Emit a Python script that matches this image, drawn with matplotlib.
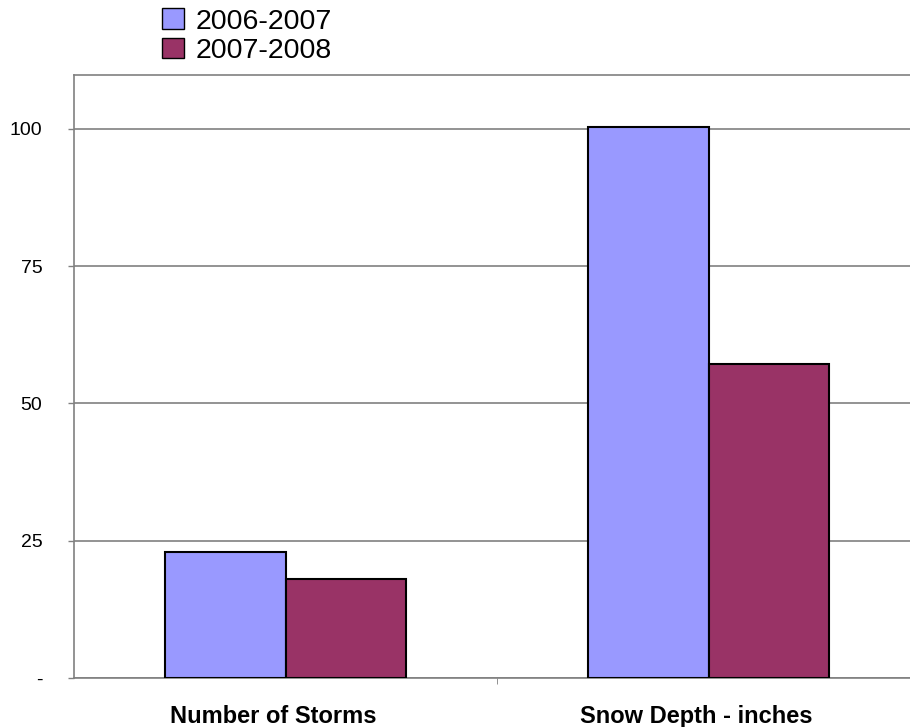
import numpy as np
from matplotlib import pyplot as plt
from matplotlib.patches import Patch
from matplotlib.transforms import ScaledTranslation

plt.rcParams['font.family'] = ['Liberation Sans', 'DejaVu Sans']

categories = ['Number of Storms', 'Snow Depth - inches']
series = ['2006-2007', '2007-2008']
values_0607 = [23, 100.3]
values_0708 = [18, 57.1]
colors = ['#9999FF', '#993366']

fig = plt.figure(figsize=(9.1, 7.27), dpi=100)
ax = fig.add_axes([74/910, 1 - 678/727, (910-74)/910, (678-75)/727])

x = np.arange(len(categories))
w = 0.286
ax.bar(x - w/2, values_0607, w, color=colors[0], edgecolor='black', linewidth=1.5, zorder=3)
ax.bar(x + w/2, values_0708, w, color=colors[1], edgecolor='black', linewidth=1.5, zorder=3)

ax.set_ylim(0, 109.8)
ax.set_xlim(-0.5, -0.5 + (910-74)/423)
ax.set_yticks([0, 25, 50, 75, 100])
ax.set_yticklabels(['-', '25', '50', '75', '100'], fontsize=14)
ax.yaxis.grid(True, color='#808080', linewidth=1.2, zorder=0)
ax.tick_params(axis='y', length=4.3, width=1, color='#808080', pad=18.5)

# category labels under the bars, tick marks at the boundaries
ax.set_xticks(x)
ax.set_xticklabels(categories, fontsize=17, fontweight='bold')
ax.tick_params(axis='x', length=0, pad=19.5)
shift = ScaledTranslation(-12/100, 0, fig.dpi_scale_trans)
for lab in ax.get_xticklabels():
    lab.set_transform(lab.get_transform() + shift)
ax.set_xticks([0.5], minor=True)
ax.tick_params(axis='x', which='minor', length=4.3, color='#808080')

ax.spines['right'].set_visible(False)
for s in ['top', 'left', 'bottom']:
    ax.spines[s].set_color('#808080')
    ax.spines[s].set_linewidth(1.2)

handles = [Patch(facecolor=c, edgecolor='black', label=s) for c, s in zip(colors, series)]
fig.legend(handles=handles, loc='upper left', bbox_to_anchor=(151/910, 1 + 3/727),
           frameon=False, fontsize=20.5, handlelength=0.75, handleheight=0.75,
           handletextpad=0.4, labelspacing=0.1, borderaxespad=0)

plt.savefig('out.png', dpi=100)
